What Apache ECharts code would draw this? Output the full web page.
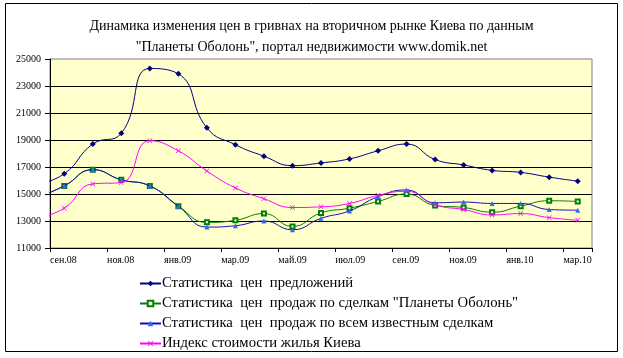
<!DOCTYPE html>
<html><head><meta charset="utf-8">
<script src="https://cdn.jsdelivr.net/npm/echarts@6/dist/echarts.min.js"></script>
<style>html,body{margin:0;padding:0;background:#fff}#c{width:623px;height:358px}</style>
</head><body><div id="c"></div>
<script>
// months (first one, авг.08, lies left of the visible axis range and is clipped)
const months = ['авг.08','сен.08','окт.08','ноя.08','дек.08','янв.09','фев.09','мар.09','апр.09','май.09','июн.09','июл.09','авг.09','сен.09','окт.09','ноя.09','дек.09','янв.10','фев.10','мар.10'];
const tickLabels = ['сен.08','ноя.08','янв.09','мар.09','май.09','июл.09','сен.09','ноя.09','янв.10','мар.10'];
const yTicks = [11000,13000,15000,17000,19000,21000,23000,25000];

const offers   = [15700,16500,18700,19500,24300,23900,19900,18650,17800,17100,17300,17600,18200,18700,17550,17150,16750,16600,16250,15950];
const obolon   = [14700,15600,16800,16050,15600,14100,12900,13050,13550,12600,13600,13950,14450,15000,14150,14000,13650,14100,14500,14450];
const allDeals = [14700,15600,16800,16050,15600,14100,12550,12650,13000,12350,13200,13750,14800,15300,14350,14400,14300,14300,13850,13800];
const kievIdx  = [13150,13950,15750,15850,18950,18200,16700,15450,14650,14000,14050,14300,14900,15200,14200,13850,13450,13550,13250,13050];

const names = ['Статистика  цен  предложений','Статистика  цен  продаж по сделкам "Планеты Оболонь"','Статистика  цен  продаж по всем известным сделкам','Индекс стоимости жилья Киева'];

function pts(arr){ return arr.map((v,i)=>[i-0.5, v]); }
const FONT = '"Liberation Serif","Times New Roman",serif';
const xMark = 'path://M0,1L1,0L5,4L9,0L10,1L6,5L10,9L9,10L5,6L1,10L0,9L4,5Z';

const chart = echarts.init(document.getElementById('c'), null, {renderer:'canvas'});
chart.setOption({
  animation:false,
  backgroundColor:'#fff',
  textStyle:{fontFamily:FONT},
  title:{
    text:'Динамика изменения цен в гривнах на вторичном рынке Киева по данным\n"Планеты Оболонь", портал недвижимости www.domik.net',
    left:'center', top:11,
    textStyle:{fontFamily:FONT,fontSize:14,fontWeight:'normal',color:'#000',lineHeight:21}
  },
  graphic:[{type:'rect',shape:{x:5.5,y:3.5,width:612,height:348},style:{fill:null,stroke:'#000',lineWidth:1},silent:true}],
  grid:{left:50,right:31,top:59,bottom:110,show:true,backgroundColor:'#FFFFCC',borderColor:'#808080',borderWidth:1},
  legend:{
    orient:'vertical', left:139, top:275, padding:0, width:470, height:82,
    itemWidth:21, itemHeight:7, itemGap:3,
    textStyle:{fontFamily:FONT,fontSize:14.7,color:'#000',padding:[0,0,0,-4],lineHeight:17},
    data:names
  },
  xAxis:{
    type:'value', min:0, max:19, interval:2,
    axisLine:{show:true,lineStyle:{color:'#000',width:1}},
    axisTick:{show:true,length:4,inside:false,lineStyle:{color:'#000'}},
    splitLine:{show:false},
    axisLabel:{
      fontFamily:FONT,fontSize:10,color:'#000',align:'left',margin:7,
      formatter:function(v){ const k=Math.round(v/2); return (Math.abs(v-2*k)<1e-6 && k<tickLabels.length)? tickLabels[k] : ''; }
    }
  },
  yAxis:{
    type:'value', min:yTicks[0], max:yTicks[yTicks.length-1], interval:yTicks[1]-yTicks[0],
    axisLine:{show:true,lineStyle:{color:'#000',width:1}},
    axisTick:{show:true,length:5,lineStyle:{color:'#000'}},
    splitLine:{show:true,showMaxLine:false,lineStyle:{color:'#000',width:1}},
    axisLabel:{fontFamily:FONT,fontSize:10,color:'#000',margin:9,formatter:function(v){return String(v);}}
  },
  series:[
    {name:names[0],type:'line',smooth:0.5,data:pts(offers),symbol:'diamond',symbolSize:6,
     lineStyle:{color:'#000080',width:1},itemStyle:{color:'#000080'},z:2},
    {name:names[1],type:'line',smooth:0.5,data:pts(obolon),symbol:'emptyRect',symbolSize:4,
     lineStyle:{color:'#008000',width:1},itemStyle:{color:'#008000',borderColor:'#008000',borderWidth:1},z:3},
    {name:names[2],type:'line',smooth:0.5,data:pts(allDeals),symbol:'triangle',symbolSize:5,
     lineStyle:{color:'#1010B0',width:1},itemStyle:{color:'#3366FF'},z:4},
    {name:names[3],type:'line',smooth:0.5,data:pts(kievIdx),symbol:xMark,symbolSize:5,
     lineStyle:{color:'#FF00FF',width:1},itemStyle:{color:'#FF00FF'},z:5}
  ]
});
</script></body></html>
